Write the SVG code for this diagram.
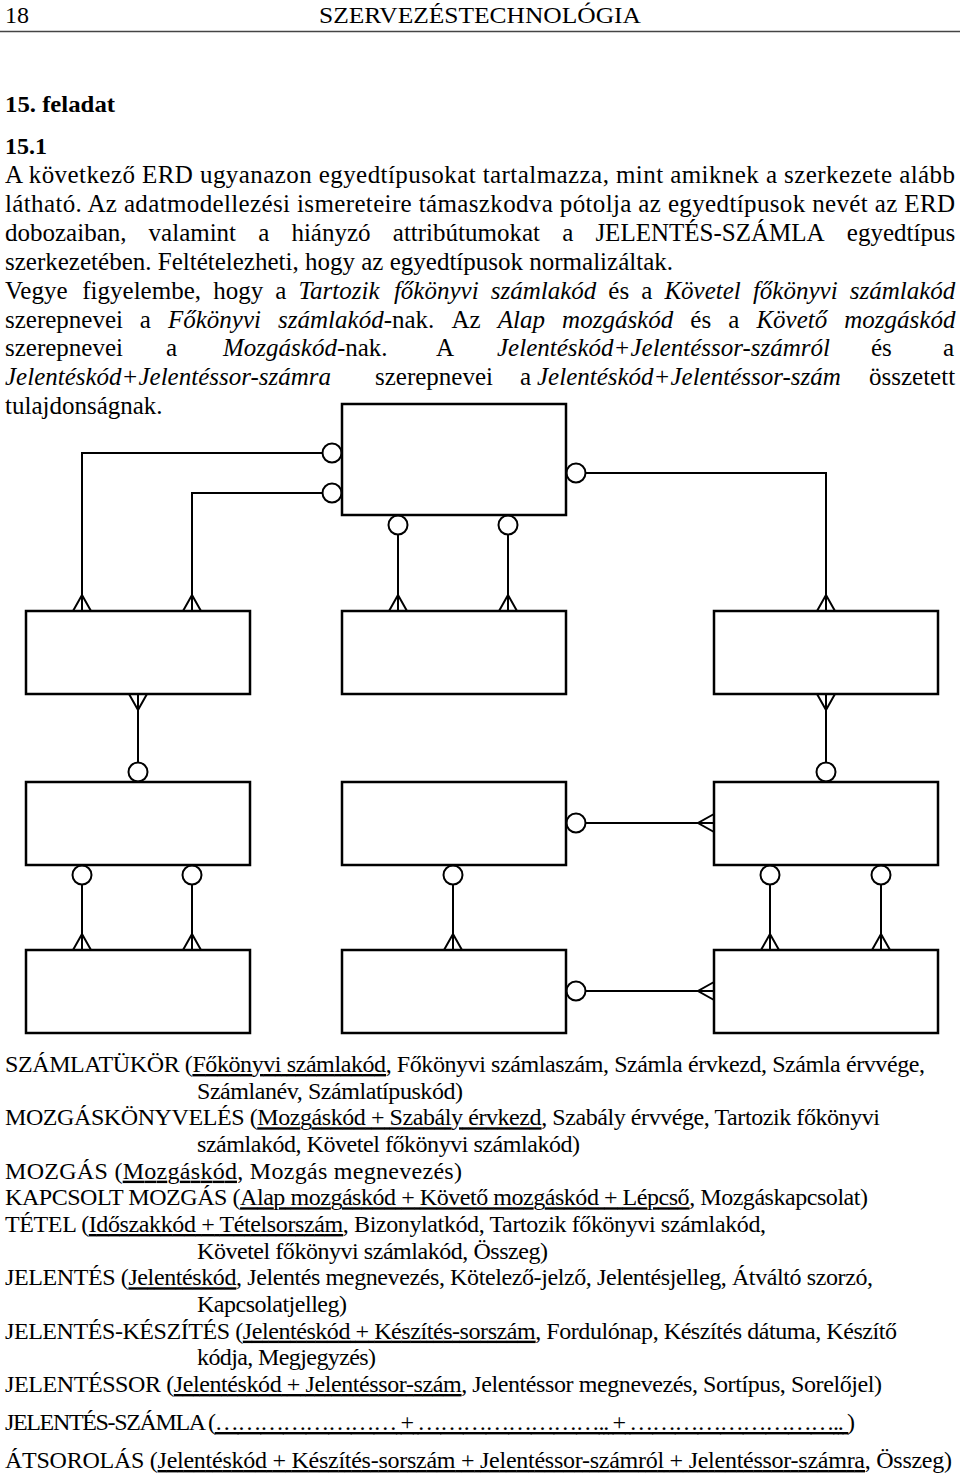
<svg xmlns="http://www.w3.org/2000/svg" width="960" height="1476" viewBox="0 0 960 1476">
<style>
.t{font-family:"Liberation Serif","Times New Roman",serif;font-size:24px;fill:#000}
.p{font-size:25px}
.b{font-weight:bold}
.i{font-style:italic}
.u{text-decoration:underline}
.box{fill:#fff;stroke:#000;stroke-width:2.5}
.ln{fill:none;stroke:#000;stroke-width:2}
.c{fill:#fff;stroke:#000;stroke-width:2}
</style>
<rect width="960" height="1476" fill="#fff"/>
<g id="header">
<text class="t" x="5" y="23">18</text>
<text class="t" x="319" y="23" textLength="322" lengthAdjust="spacingAndGlyphs">SZERVEZÉSTECHNOLÓGIA</text>
<line x1="0" y1="31.5" x2="960" y2="31.5" stroke="#444" stroke-width="1.5"/>
<text class="t b" x="5" y="112" textLength="110" lengthAdjust="spacingAndGlyphs">15. feladat</text>
<text class="t b" x="5" y="154">15.1</text>
</g>
<g id="paragraph">
<text class="t p" x="5" y="183" textLength="950" lengthAdjust="spacing">A következő ERD ugyanazon egyedtípusokat tartalmazza, mint amiknek a szerkezete alább</text>
<text class="t p" x="5" y="211.9" textLength="950" lengthAdjust="spacing">látható. Az adatmodellezési ismereteire támaszkodva pótolja az egyedtípusok nevét az ERD</text>
<text class="t p" y="240.8"><tspan x="5">dobozaiban,</tspan><tspan x="148.6">valamint</tspan><tspan x="258.2">a</tspan><tspan x="291.4">hiányzó</tspan><tspan x="392.8">attribútumokat</tspan><tspan x="562.2">a</tspan><tspan x="595.4">JELENTÉS-SZÁMLA</tspan><tspan x="846.8">egyedtípus</tspan></text>
<text class="t p" x="5" y="269.7" textLength="668" lengthAdjust="spacing">szerkezetében. Feltételezheti, hogy az egyedtípusok normalizáltak.</text>
<text class="t p" y="298.6"><tspan x="5">Vegye</tspan><tspan x="82.3">figyelembe,</tspan><tspan x="213.2">hogy</tspan><tspan x="275.3">a</tspan><tspan x="298.5" class="i">Tartozik</tspan><tspan x="393.9" class="i">főkönyvi</tspan><tspan x="490.7" class="i">számlakód</tspan><tspan x="608.3">és</tspan><tspan x="641.2">a</tspan><tspan x="664.4" class="i">Követel</tspan><tspan x="752.9" class="i">főkönyvi</tspan><tspan x="849.7" class="i">számlakód</tspan></text>
<text class="t p" y="327.5"><tspan x="5">szerepnevei</tspan><tspan x="139.8">a</tspan><tspan x="168" class="i">Főkönyvi</tspan><tspan x="278.1"><tspan class="i">számlakód</tspan>-nak.</tspan><tspan x="451.5">Az</tspan><tspan x="497.8" class="i">Alap</tspan><tspan x="562.1" class="i">mozgáskód</tspan><tspan x="690.3">és</tspan><tspan x="728.2">a</tspan><tspan x="756.4" class="i">Követő</tspan><tspan x="844.3" class="i">mozgáskód</tspan></text>
<text class="t p" y="356.4"><tspan x="5">szerepnevei</tspan><tspan x="166">a</tspan><tspan x="223"><tspan class="i">Mozgáskód</tspan>-nak.</tspan><tspan x="436">A</tspan><tspan x="497" class="i">Jelentéskód+Jelentéssor-számról</tspan><tspan x="871">és</tspan><tspan x="943">a</tspan></text>
<text class="t p" y="385.3"><tspan x="5" class="i">Jelentéskód+Jelentéssor-számra</tspan><tspan x="375">szerepnevei</tspan><tspan x="520">a</tspan><tspan x="537" class="i">Jelentéskód+Jelentéssor-szám</tspan><tspan x="869">összetett</tspan></text>
<text class="t p" x="5" y="414.2">tulajdonságnak.</text>
</g>
<g id="connectors">
<path class="ln" d="M322,453H82V611M322,493H192V611M398,535V611M508,535V611M586,473H826V611"/>
<path class="ln" d="M73,611L82,595L91,611M183,611L192,595L201,611M389,611L398,595L407,611M499,611L508,595L517,611M817,611L826,595L835,611"/>
<path class="ln" d="M138,694V762M826,694V762"/>
<path class="ln" d="M129,694L138,710L147,694M817,694L826,710L835,694"/>
<path class="ln" d="M82,885V950M192,885V950M453,885V950M770,885V950M881,885V950"/>
<path class="ln" d="M73,950L82,934L91,950M183,950L192,934L201,950M444,950L453,934L462,950M761,950L770,934L779,950M872,950L881,934L890,950"/>
<path class="ln" d="M586,823H714M586,991H714"/>
<path class="ln" d="M714,814L698,823L714,832M714,982L698,991L714,1000"/>
<circle class="c" cx="332" cy="453" r="9.5"/>
<circle class="c" cx="332" cy="493" r="9.5"/>
<circle class="c" cx="398" cy="525" r="9.5"/>
<circle class="c" cx="508" cy="525" r="9.5"/>
<circle class="c" cx="576" cy="473" r="9.5"/>
<circle class="c" cx="138" cy="772" r="9.5"/>
<circle class="c" cx="826" cy="772" r="9.5"/>
<circle class="c" cx="82" cy="875" r="9.5"/>
<circle class="c" cx="192" cy="875" r="9.5"/>
<circle class="c" cx="453" cy="875" r="9.5"/>
<circle class="c" cx="770" cy="875" r="9.5"/>
<circle class="c" cx="881" cy="875" r="9.5"/>
<circle class="c" cx="576" cy="823" r="9.5"/>
<circle class="c" cx="576" cy="991" r="9.5"/>
</g>
<g id="e-top"><rect class="box" x="342" y="404" width="224" height="111"/></g>
<g id="e-r2a"><rect class="box" x="26" y="611" width="224" height="83"/></g>
<g id="e-r2b"><rect class="box" x="342" y="611" width="224" height="83"/></g>
<g id="e-r2c"><rect class="box" x="714" y="611" width="224" height="83"/></g>
<g id="e-r3a"><rect class="box" x="26" y="782" width="224" height="83"/></g>
<g id="e-r3b"><rect class="box" x="342" y="782" width="224" height="83"/></g>
<g id="e-r3c"><rect class="box" x="714" y="782" width="224" height="83"/></g>
<g id="e-r4a"><rect class="box" x="26" y="950" width="224" height="83"/></g>
<g id="e-r4b"><rect class="box" x="342" y="950" width="224" height="83"/></g>
<g id="e-r4c"><rect class="box" x="714" y="950" width="224" height="83"/></g>
<g id="schemas">
<text class="t" x="5" y="1072" textLength="920" lengthAdjust="spacing">SZÁMLATÜKÖR (<tspan class="u">Főkönyvi számlakód</tspan>, Főkönyvi számlaszám, Számla érvkezd, Számla érvvége,</text>
<text class="t" x="197" y="1098.7" textLength="266" lengthAdjust="spacing">Számlanév, Számlatípuskód)</text>
<text class="t" x="5" y="1125.3" textLength="875" lengthAdjust="spacing">MOZGÁSKÖNYVELÉS (<tspan class="u">Mozgáskód + Szabály érvkezd</tspan>, Szabály érvvége, Tartozik főkönyvi</text>
<text class="t" x="197" y="1152" textLength="383" lengthAdjust="spacing">számlakód, Követel főkönyvi számlakód)</text>
<text class="t" x="5" y="1178.7" textLength="457" lengthAdjust="spacing">MOZGÁS (<tspan class="u">Mozgáskód</tspan>, Mozgás megnevezés)</text>
<text class="t" x="5" y="1205.3" textLength="863" lengthAdjust="spacing">KAPCSOLT MOZGÁS (<tspan class="u">Alap mozgáskód + Követő mozgáskód + Lépcső</tspan>, Mozgáskapcsolat)</text>
<text class="t" x="5" y="1232" textLength="761" lengthAdjust="spacing">TÉTEL (<tspan class="u">Időszakkód + Tételsorszám</tspan>, Bizonylatkód, Tartozik főkönyvi számlakód,</text>
<text class="t" x="197" y="1258.7" textLength="351" lengthAdjust="spacing">Követel főkönyvi számlakód, Összeg)</text>
<text class="t" x="5" y="1285.3" textLength="868" lengthAdjust="spacing">JELENTÉS (<tspan class="u">Jelentéskód</tspan>, Jelentés megnevezés, Kötelező-jelző, Jelentésjelleg, Átváltó szorzó,</text>
<text class="t" x="197" y="1312" textLength="150" lengthAdjust="spacing">Kapcsolatjelleg)</text>
<text class="t" x="5" y="1338.7" textLength="892" lengthAdjust="spacing">JELENTÉS-KÉSZÍTÉS (<tspan class="u">Jelentéskód + Készítés-sorszám</tspan>, Fordulónap, Készítés dátuma, Készítő</text>
<text class="t" x="197" y="1365.3" textLength="179" lengthAdjust="spacing">kódja, Megjegyzés)</text>
<text class="t" x="5" y="1392" textLength="877" lengthAdjust="spacing">JELENTÉSSOR (<tspan class="u">Jelentéskód + Jelentéssor-szám</tspan>, Jelentéssor megnevezés, Sortípus, Sorelőjel)</text>
<text class="t" x="5" y="1430" textLength="850" lengthAdjust="spacing">JELENTÉS-SZÁMLA (<tspan class="u">…………………… + …………………….. + ……………………….. </tspan>)</text>
<text class="t" x="5" y="1468" textLength="947" lengthAdjust="spacing">ÁTSOROLÁS (<tspan class="u">Jelentéskód + Készítés-sorszám + Jelentéssor-számról + Jelentéssor-számra</tspan>, Összeg)</text>
</g>
</svg>
